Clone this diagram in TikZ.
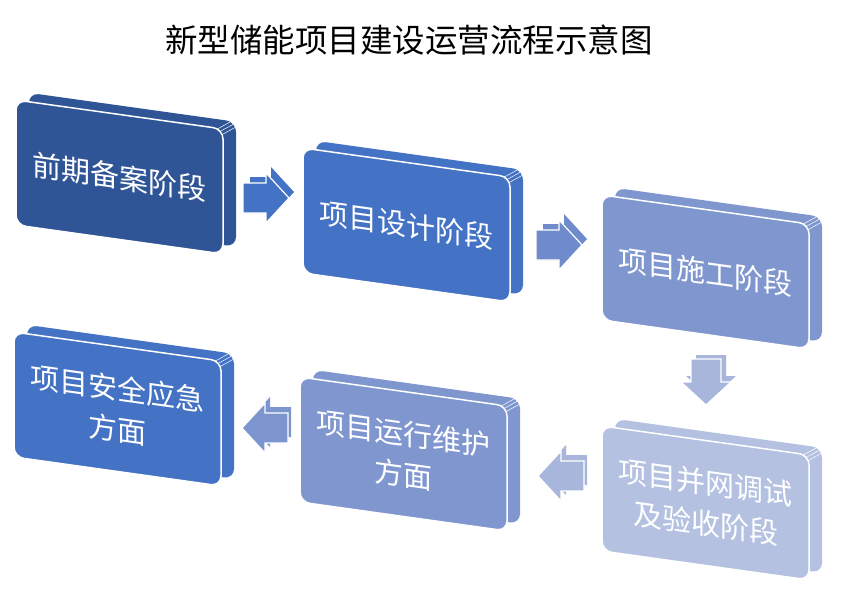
\documentclass[tikz,border=0pt]{standalone}
\usepackage{fontspec}
\newfontfamily\cjkfont{Noto Sans CJK SC}
\definecolor{cA}{HTML}{2F5597}
\definecolor{cB}{HTML}{4472C4}
\definecolor{cC}{HTML}{7F96CF}
\definecolor{cD}{HTML}{B4C1E1}
\definecolor{aA}{HTML}{4472C4}
\definecolor{aB}{HTML}{6F8BCB}
\definecolor{aC}{HTML}{A9B6DC}
\definecolor{aD}{HTML}{7C95CE}
\newcommand\stagebox[5]{% name, x, y, colour, text
  \begin{scope}[shift={(#2,#3)}, yslant=-0.14]
    \fill[#4, rounded corners=10pt] (13,-9) rectangle ++(207,125);
    \foreach \a in {25,45,65}
      \draw[white, line width=0.5pt] ({197+10*cos(\a)},{10-10*sin(\a)}) -- ++(13,-9);
    \node[boxface, fill=#4] (#1) at (103.5,62.5) {#5};
  \end{scope}}
\newcommand\blockarrow[5]{% name, x, y, rotation, colour
  \begin{scope}[shift={(#2,#3)}]
    \fill[#5, shift={(5,-6)}, rotate=#4]
      (-21,-15) -- (0,-15) -- (0,-25) -- (23,0) -- (0,25) -- (0,15) -- (-21,15) -- cycle;
    \filldraw[fill=#5, draw=white, line width=1.2pt, rotate=#4]
      (-23,-15) -- (0,-15) -- (0,-25) -- (23,0) -- (0,25) -- (0,15) -- (-23,15) -- cycle;
    \coordinate (#1) at (0,0);
  \end{scope}}
\begin{document}
\begin{tikzpicture}[x=1pt,y=-1pt,
  boxface/.style={draw=white, line width=1.5pt, rounded corners=10pt,
    minimum width=207pt, minimum height=125pt, transform shape, text=white,
    align=center, inner sep=0pt, font=\cjkfont\fontsize{29}{41}\selectfont},
  titlestyle/.style={font=\cjkfont\fontsize{32.5}{36}\selectfont, text=black}]
\useasboundingbox (0,0) rectangle (848,613);
\node[titlestyle] (title) at (409,40) {新型储能项目建设运营流程示意图};

\stagebox{b1}{16}{100}{cA}{前期备案阶段}
\stagebox{b2}{303}{148}{cB}{项目设计阶段}
\stagebox{b3}{602}{195}{cC}{项目施工阶段}
\stagebox{b4}{602}{426}{cD}{项目并网调试\\及验收阶段}
\stagebox{b5}{14}{332}{cB}{项目安全应急\\方面}
\stagebox{b6}{300}{377}{cC}{项目运行维护\\方面}

\blockarrow{a1}{266}{198}{0}{aA}
\blockarrow{a2}{559}{245}{0}{aB}
\blockarrow{a3}{706}{382}{-90}{aC}
\blockarrow{a4}{561}{476}{180}{aC}
\blockarrow{a5}{265}{428}{180}{aD}
\end{tikzpicture}
\end{document}
